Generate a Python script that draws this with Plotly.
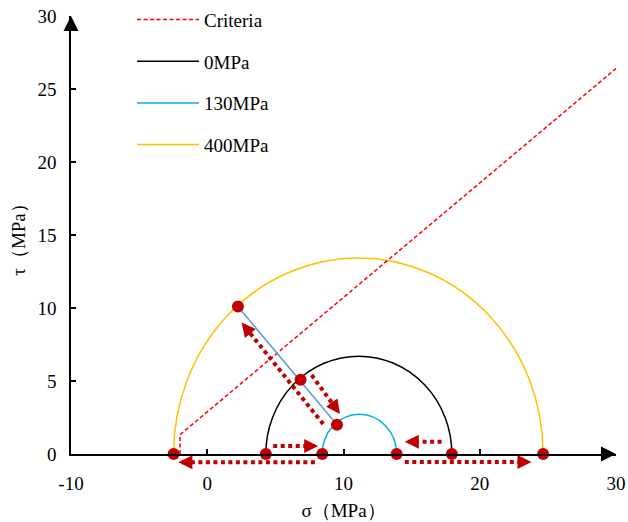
import math
import plotly.graph_objects as go

# ---- data -------------------------------------------------------------
# Mohr circles: minor / major principal stress and peak shear (MPa)
circle_names = ["0MPa", "130MPa", "400MPa"]
sigma3 = [4.3, 8.44, -2.47]
sigma1 = [17.95, 13.9, 24.65]
tau_peak = [6.7, 2.72, 13.43]
circle_colors = ["#000000", "#00B0F0", "#FFC000"]

# failure criterion
criteria_sigma = [-2.0, -2.0, 30.0]
criteria_tau = [0.0, 1.32, 26.4]

# stress states on the tangent path
path_sigma = [2.25, 6.85, 9.52]
path_tau = [10.1, 5.09, 2.01]

# principal stresses on the sigma axis
axis_sigma = [-2.47, 4.3, 8.44, 13.9, 17.95, 24.65]
axis_tau = [0, 0, 0, 0, 0, 0]

# loading arrows (tail -> head)
arrow_tail_x = [8.51, 7.66, 17.2, 14.5, 4.84, 7.9]
arrow_tail_y = [2.05, 5.41, 0.84, -0.55, 0.55, -0.57]
arrow_head_x = [2.52, 9.74, 14.5, 23.8, 8.14, -2.12]
arrow_head_y = [9.0, 2.74, 0.84, -0.55, 0.55, -0.57]

x_ticks = [-10, 0, 10, 20, 30]
x_ticktext = ["-10", "0", "10", "20", "30"]
y_ticks = [0, 5, 10, 15, 20, 25, 30]

# ---- layout geometry ----------------------------------------------------
W, H = 628, 522
M = dict(l=71, r=12, t=16, b=68, autoexpand=False)
X_RANGE = [-10, 30]
Y_RANGE = [0, 30]
PX_X = (W - M["l"] - M["r"]) / (X_RANGE[1] - X_RANGE[0])
PX_Y = (H - M["t"] - M["b"]) / (Y_RANGE[1] - Y_RANGE[0])

FONT = "Times New Roman, Liberation Serif, serif"
FS = 19
DARK_RED = "#C00000"


def to_paper(v):
    return (v - Y_RANGE[0]) / (Y_RANGE[1] - Y_RANGE[0])


fig = go.Figure()

# legend-only entries and the criterion line
fig.add_trace(go.Scatter(
    x=criteria_sigma, y=criteria_tau, mode="lines", name="Criteria",
    line=dict(color="#FF0000", width=1.5, dash="4px,2.5px"),
    legendgroup="c", hoverinfo="skip"))
for name, col in zip(circle_names, circle_colors):
    fig.add_trace(go.Scatter(
        x=[None], y=[None], mode="lines", name=name,
        line=dict(color=col, width=1.5), legendgroup=name))

# Mohr circles (lower halves fall outside the tau range)
shapes = []
for s3, s1, tp, col in zip(sigma3, sigma1, tau_peak, circle_colors):
    shapes.append(dict(type="circle", xref="x", yref="y",
                       x0=s3, x1=s1, y0=-tp, y1=tp,
                       line=dict(color=col, width=1.5), layer="below"))

# tangent path connecting the stress states
fig.add_trace(go.Scatter(
    x=[path_sigma[0], path_sigma[-1]], y=[path_tau[0], path_tau[-1]],
    mode="lines", line=dict(color="#5B9BD5", width=1.5),
    showlegend=False, hoverinfo="skip"))

# dotted arrows: shaft as a shape, head as an annotation
annotations = []
for tx, ty, hx, hy in zip(arrow_tail_x, arrow_tail_y, arrow_head_x, arrow_head_y):
    dxs = (hx - tx) * PX_X
    dys = -(hy - ty) * PX_Y
    L = math.hypot(dxs, dys)
    ux, uy = dxs / L, dys / L
    back = 10.0
    ex = hx - ux * back / PX_X
    ey = hy + uy * back / PX_Y
    shapes.append(dict(type="line", xref="x", yref="paper",
                       x0=tx, y0=to_paper(ty), x1=ex, y1=to_paper(ey),
                       line=dict(color=DARK_RED, width=4, dash="4px,3.5px"),
                       layer="above"))
    annotations.append(dict(x=hx, y=to_paper(hy), xref="x", yref="paper",
                            axref="pixel", ayref="pixel",
                            ax=-ux * 9, ay=-uy * 9, text="", showarrow=True,
                            arrowhead=2, arrowsize=0.7, arrowwidth=4,
                            arrowcolor=DARK_RED))

# stress-state markers
fig.add_trace(go.Scatter(
    x=axis_sigma + path_sigma, y=axis_tau + path_tau, mode="markers",
    marker=dict(color=DARK_RED, size=12), cliponaxis=False,
    showlegend=False, hoverinfo="skip"))

# axis arrowheads
annotations.append(dict(x=X_RANGE[1], y=0, xref="x", yref="y", axref="x",
                        ayref="y", ax=X_RANGE[1] - 0.5, ay=0, text="",
                        showarrow=True, arrowhead=2, arrowsize=1.5,
                        arrowwidth=2, arrowcolor="black"))
annotations.append(dict(x=X_RANGE[0], y=Y_RANGE[1], xref="x", yref="y",
                        axref="x", ayref="y", ax=X_RANGE[0],
                        ay=Y_RANGE[1] - 0.5, text="", showarrow=True,
                        arrowhead=2, arrowsize=1.5, arrowwidth=2,
                        arrowcolor="black"))

fig.update_layout(
    width=W, height=H, margin=M,
    paper_bgcolor="white", plot_bgcolor="white",
    font=dict(family=FONT, size=FS, color="black"),
    shapes=shapes, annotations=annotations,
    showlegend=True,
    legend=dict(x=0.112, y=1.035, xanchor="left", yanchor="top",
                bgcolor="rgba(0,0,0,0)", font=dict(family=FONT, size=FS),
                tracegroupgap=14, itemwidth=62),
    xaxis=dict(range=X_RANGE, tickvals=x_ticks, ticktext=x_ticktext,
               ticks="inside", ticklen=5, tickwidth=1.5, tickcolor="black",
               tickfont=dict(family=FONT, size=FS),
               showline=True, linecolor="black", linewidth=1.5,
               showgrid=False, zeroline=False, ticklabelstandoff=11,
               title=dict(text="σ（MPa）", standoff=11,
                          font=dict(family=FONT, size=FS))),
    yaxis=dict(range=Y_RANGE, tickvals=y_ticks,
               ticks="inside", ticklen=5, tickwidth=1.5, tickcolor="black",
               tickfont=dict(family=FONT, size=FS),
               showline=True, linecolor="black", linewidth=1.5,
               showgrid=False, zeroline=False, ticklabelstandoff=9,
               title=dict(text="τ（MPa）", standoff=7,
                          font=dict(family=FONT, size=FS))),
)

fig.write_html("out.html")
